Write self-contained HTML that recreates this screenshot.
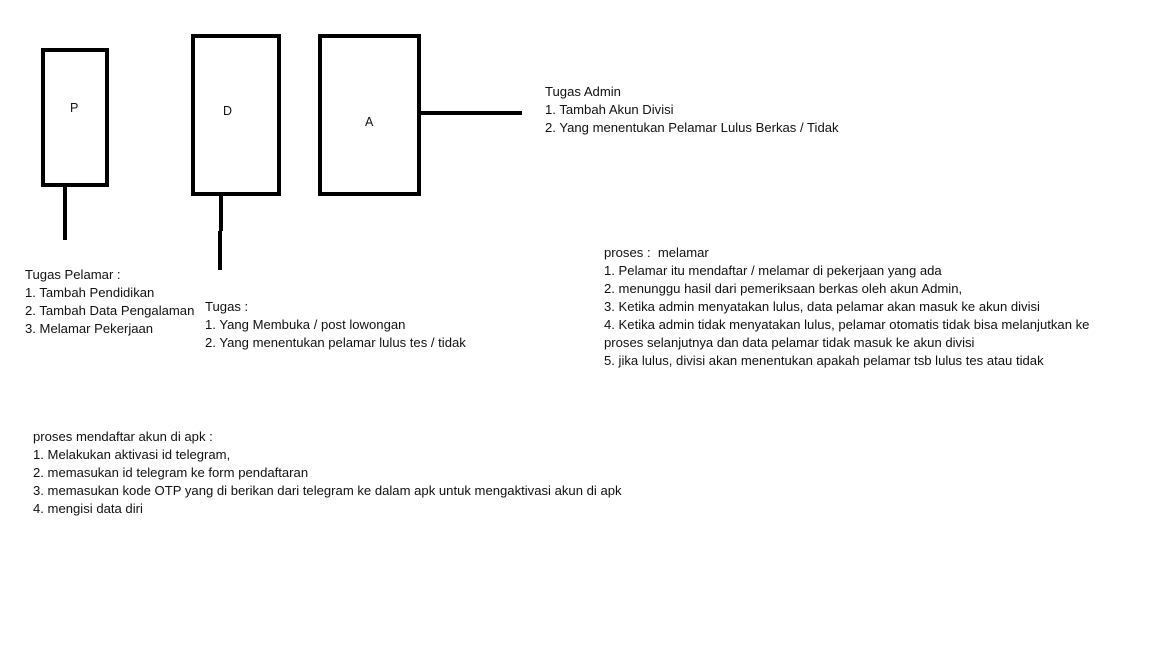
<!DOCTYPE html>
<html><head><style>
body{margin:0;width:1152px;height:648px;background:#fff;position:relative;overflow:hidden;font-family:"Liberation Sans",sans-serif;font-size:13.1px;color:#111}
.b{position:absolute;border:4px solid #000;box-sizing:border-box}
.l{position:absolute;background:#000}
.t{position:absolute;line-height:18px;white-space:pre}
.c{position:absolute;font-size:12.5px}
</style></head><body>
<div class="b" style="left:41px;top:48px;width:68px;height:139px"></div>
<div class="b" style="left:191px;top:34px;width:90px;height:162px"></div>
<div class="b" style="left:318px;top:34px;width:103px;height:162px"></div>
<div class="c" style="left:70px;top:101px">P</div>
<div class="c" style="left:223px;top:104px">D</div>
<div class="c" style="left:365px;top:115px">A</div>
<div class="l" style="left:63px;top:187px;width:4px;height:53px"></div>
<div class="l" style="left:219px;top:196px;width:4px;height:35px"></div>
<div class="l" style="left:218px;top:231px;width:4px;height:39px"></div>
<div class="l" style="left:421px;top:111px;width:101px;height:4px"></div>
<div class="t" style="left:545px;top:83px">Tugas Admin
1. Tambah Akun Divisi
2. Yang menentukan Pelamar Lulus Berkas / Tidak</div>
<div class="t" style="left:25px;top:266px">Tugas Pelamar :
1. Tambah Pendidikan
2. Tambah Data Pengalaman
3. Melamar Pekerjaan</div>
<div class="t" style="left:205px;top:298px">Tugas :
1. Yang Membuka / post lowongan
2. Yang menentukan pelamar lulus tes / tidak</div>
<div class="t" style="left:604px;top:244px">proses :  melamar
1. Pelamar itu mendaftar / melamar di pekerjaan yang ada
2. menunggu hasil dari pemeriksaan berkas oleh akun Admin,
3. Ketika admin menyatakan lulus, data pelamar akan masuk ke akun divisi
4. Ketika admin tidak menyatakan lulus, pelamar otomatis tidak bisa melanjutkan ke
proses selanjutnya dan data pelamar tidak masuk ke akun divisi
5. jika lulus, divisi akan menentukan apakah pelamar tsb lulus tes atau tidak</div>
<div class="t" style="left:33px;top:428px">proses mendaftar akun di apk :
1. Melakukan aktivasi id telegram,
2. memasukan id telegram ke form pendaftaran
3. memasukan kode OTP yang di berikan dari telegram ke dalam apk untuk mengaktivasi akun di apk
4. mengisi data diri</div>
</body></html>
